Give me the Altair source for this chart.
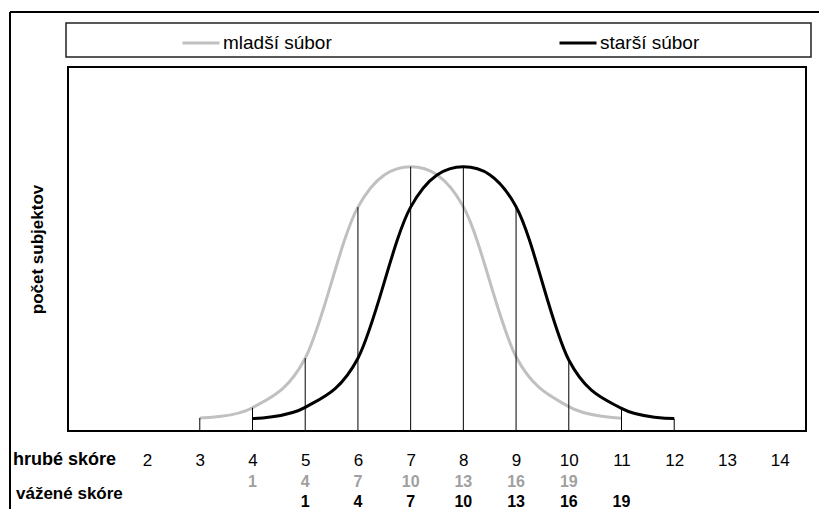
import altair as alt
import pandas as pd

# ---- data ----
hrube_skore = list(range(2, 15))                  # raw score tick labels
series = ["mladší súbor", "starší súbor"]

mladsi_x = [3, 4, 5, 6, 7, 8, 9, 10, 11]
mladsi_y = [3.6, 6.4, 20.0, 61.5, 72.6, 61.6, 20.4, 6.7, 3.5]

starsi_x = [4, 5, 6, 7, 8, 9, 10, 11, 12]
starsi_y = [3.4, 6.5, 20.0, 61.5, 72.6, 61.6, 19.5, 6.2, 3.4]

vazene_labels = [1, 4, 7, 10, 13, 16, 19]         # weighted scores
vazene_mladsi_x = [4, 5, 6, 7, 8, 9, 10]
vazene_starsi_x = [5, 6, 7, 8, 9, 10, 11]

FONT = "Liberation Sans"

curves = pd.concat([
    pd.DataFrame({"hrube": mladsi_x, "pocet": mladsi_y, "subor": series[0]}),
    pd.DataFrame({"hrube": starsi_x, "pocet": starsi_y, "subor": series[1]}),
], ignore_index=True)
rules = curves.groupby("hrube", as_index=False)["pocet"].max()

vaz_m = pd.DataFrame({"hrube": vazene_mladsi_x, "label": vazene_labels})
vaz_s = pd.DataFrame({"hrube": vazene_starsi_x, "label": vazene_labels})

xscale = alt.Scale(domain=[0.5, 14.5], nice=False, zero=False)
yscale = alt.Scale(domain=[0, 100], nice=False)

X_AXIS = alt.Axis(
    values=hrube_skore, title=None, domain=False, ticks=False, grid=False,
    labelFontSize=17, labelPadding=29, labelBaseline="middle", labelColor="black",
    labelFont=FONT, format="d", labelFlush=False)
Y_AXIS = alt.Axis(
    title="počet subjektov", labels=False, ticks=False, domain=False, grid=False,
    titleFontSize=17, titleFont=FONT, titleFontWeight="bold", titleColor="black",
    titlePadding=22)


def xe():
    return alt.X("hrube:Q", scale=xscale, axis=X_AXIS)


def ye():
    return alt.Y("pocet:Q", scale=yscale, axis=Y_AXIS)


lines = alt.Chart(curves).mark_line(interpolate="cardinal", strokeWidth=3).encode(
    x=xe(), y=ye(),
    color=alt.Color("subor:N", scale=alt.Scale(domain=series, range=["#c0c0c0", "#000000"]),
                    legend=alt.Legend(title=None, orient="none", legendX=113, legendY=-44,
                                      direction="horizontal", symbolType="stroke",
                                      symbolSize=1369, symbolStrokeWidth=3,
                                      labelFontSize=19, labelFont=FONT, labelColor="black",
                                      labelOffset=2, columnPadding=221, padding=0)),
    detail="subor:N",
)

rule_layer = alt.Chart(rules).mark_rule(color="black", strokeWidth=1).encode(
    x=xe(), y=ye(), y2=alt.datum(0))

t_m = alt.Chart(vaz_m).mark_text(fontSize=16, fontWeight="bold", color="#a0a0a0",
                                 font=FONT, baseline="middle").encode(
    x=xe(), y=alt.value(415), text="label:Q")
t_s = alt.Chart(vaz_s).mark_text(fontSize=16, fontWeight="bold", color="black",
                                 font=FONT, baseline="middle").encode(
    x=xe(), y=alt.value(435), text="label:Q")

row_titles = pd.DataFrame({"t": ["hrubé skóre", "vážené skóre"]})
rt1 = alt.Chart(row_titles.iloc[[0]]).mark_text(
    fontSize=18, fontWeight="bold", font=FONT, align="left", baseline="middle", color="black"
).encode(x=alt.value(-55), y=alt.value(393), text="t:N")
rt2 = alt.Chart(row_titles.iloc[[1]]).mark_text(
    fontSize=17, fontWeight="bold", font=FONT, align="left", baseline="middle", color="black"
).encode(x=alt.value(-52), y=alt.value(427), text="t:N")

one = pd.DataFrame({"a": [0]})
frame_top = alt.Chart(one).mark_rule(color="black", strokeWidth=2).encode(
    x=alt.value(-58), x2=alt.value(800), y=alt.value(-55))
frame_left = alt.Chart(one).mark_rule(color="black", strokeWidth=2).encode(
    x=alt.value(-58), y=alt.value(-55), y2=alt.value(520))
legend_box = alt.Chart(one).mark_rect(fillOpacity=0, stroke="#222222", strokeWidth=1.5).encode(
    x=alt.value(-2), x2=alt.value(743), y=alt.value(-44), y2=alt.value(-10))

chart = alt.layer(
    lines, rule_layer, t_m, t_s, rt1, rt2, frame_top, frame_left, legend_box
).properties(
    width=738, height=364,
    padding={"left": 60, "top": 59, "right": 13, "bottom": 78},
    autosize=alt.AutoSizeParams(type="none"),
    background="white",
).configure_view(stroke="black", strokeWidth=2)

chart.save("out.html", embed_options={"renderer": "svg", "actions": False})
